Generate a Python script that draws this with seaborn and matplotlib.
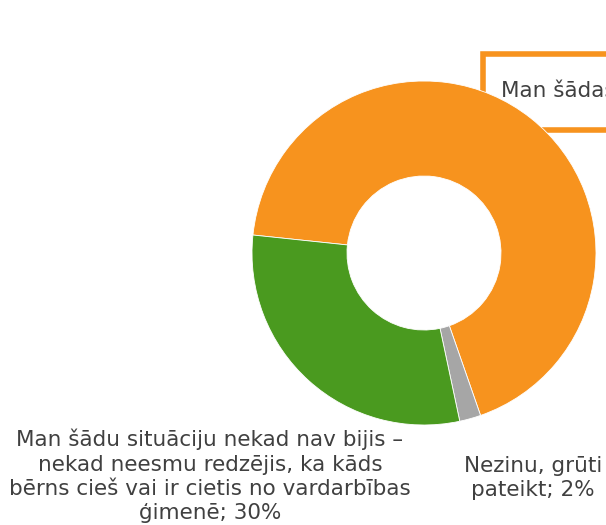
import matplotlib
matplotlib.use("Agg")
import matplotlib.pyplot as plt
import seaborn as sns
from matplotlib.patches import Rectangle

# data
labels = [
    "Man šādas situācijas ir bijušas",
    "Nezinu, grūti\npateikt",
    "Man šādu situāciju nekad nav bijis –\nnekad neesmu redzējis, ka kāds\nbērns cieš vai ir cietis no vardarbības\nģimenē",
]
values = [68, 2, 30]
colors = ["#F7931E", "#A6A6A6", "#4A9A1F"]

sns.set_theme(style="white")
plt.rcParams['font.family'] = ['DejaVu Sans']

W, H = 606, 525
fig = plt.figure(figsize=(W / 100, H / 100), dpi=100)

# donut: centre (424, 253) px, outer radius 172 px, inner 77 px
cx, cy, r = 424, 253, 172
ax = fig.add_axes([(cx - r) / W, (H - cy - r) / H, 2 * r / W, 2 * r / H])
ax.pie(values, colors=sns.color_palette(colors), startangle=174, counterclock=False,
       radius=1, wedgeprops=dict(width=1 - 77 / 172, edgecolor="white", linewidth=0.6))
ax.set_xlim(-1, 1)
ax.set_ylim(-1, 1)
ax.set_aspect("equal")
ax.axis("off")

txt_color = "#404040"
fs = 15.5

def fx(x):
    return x / W

def fy(y):
    return 1 - y / H

# orange label in a bordered box (runs off the right edge, sits behind the donut)
fig.patches.append(Rectangle((fx(483), fy(130)), fx(200), (130 - 54) / H,
                             transform=fig.transFigure, facecolor="white",
                             edgecolor=colors[0], linewidth=4, zorder=-1))
fig.text(fx(501), fy(90), f"{labels[0]}; {values[0]}%", ha="left", va="center",
         fontsize=fs, color=txt_color, zorder=4)

fig.text(fx(533), fy(478), f"{labels[1]}; {values[1]}%", ha="center", va="center",
         fontsize=fs, color=txt_color, linespacing=1.28)
fig.text(fx(210), fy(476), f"{labels[2]}; {values[2]}%", ha="center", va="center",
         fontsize=fs, color=txt_color, linespacing=1.28)

fig.savefig("out.png", dpi=100)
